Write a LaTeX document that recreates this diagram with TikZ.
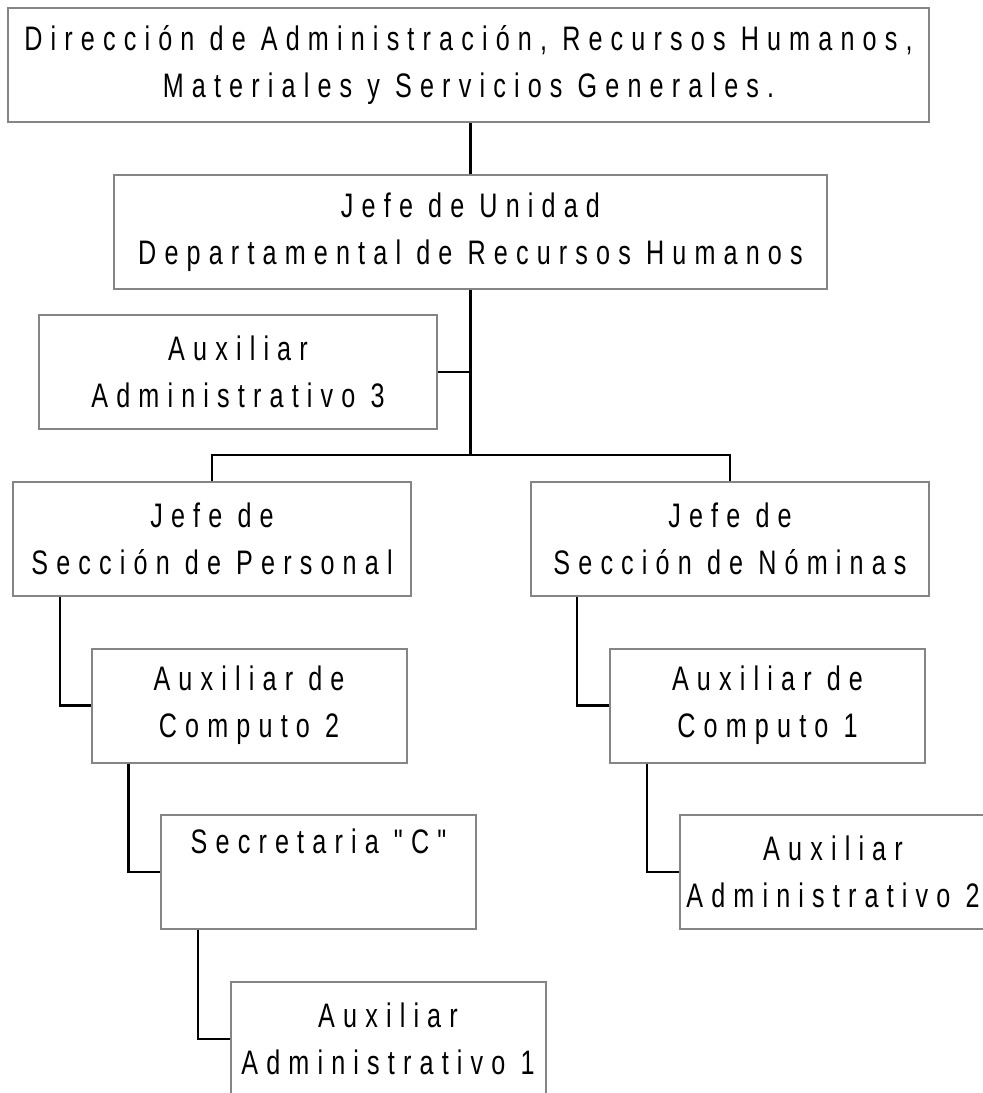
\documentclass[tikz,border=0pt]{standalone}
\usepackage{fontspec}
\newfontfamily\orgfont[FakeStretch=0.74, LetterSpace=24]{Liberation Sans}

\begin{document}
\begin{tikzpicture}[x=1pt, y=-1pt, line width=2.2pt,
    every node/.style={draw=black!48, line width=2pt, rectangle, align=center,
        minimum height=114pt, inner sep=0pt,
        font=\orgfont\fontsize{34}{47}\selectfont},
    wide/.style={minimum width=398pt},
    narrow/.style={minimum width=315pt}]
                \useasboundingbox (0, 0) rectangle (983, 1093);
                \clip (0, 0) rectangle (983, 1093);

                % Nodes
                \node[minimum width=921pt] at (468.5, 65) (dir) {Dirección de Administración, Recursos Humanos,\\ Materiales y Servicios Generales.};
                \node[minimum width=713pt] at (470.5, 232) (rh) {Jefe de Unidad\\ Departamental de Recursos Humanos};
                \node[wide] at (238, 372) (aux3) {Auxiliar\\ Administrativo 3};
                \node[wide] at (212, 539) (pers) {Jefe de\\ Sección de Personal};
                \node[wide] at (730, 539) (nom) {Jefe de\\ Sección de Nóminas};
                \node[narrow] at (249, 705.5) (comp2) {Auxiliar de\\ Computo 2};
                \node[narrow] at (767.5, 705.5) (comp1) {Auxiliar de\\ Computo 1};
                \node[narrow] at (318.5, 872) (sec) {Secretaria "C"\\ \strut};
                \node[minimum width=306pt] at (833, 872) (aux2) {Auxiliar\\ Administrativo 2};
                \node[narrow] at (388, 1039) (aux1) {Auxiliar\\ Administrativo 1};
                \coordinate (bus) at (470.5, 455);

                % Edges
                \draw[-] (rh.north) -- (rh.north |- dir.south);

                \draw[-] (rh.south) -- (bus);

                \draw[-] (aux3.east) -- (aux3.east -| rh.south);

                \draw[-] (pers.north) |- (bus) -| (nom.north);

                \draw[-] ([xshift=48pt]pers.south west) |- (comp2.west);

                \draw[-] ([xshift=47pt]nom.south west) |- (comp1.west);

                \draw[-] ([xshift=38pt]comp2.south west) |- (sec.west);

                \draw[-] ([xshift=38pt]comp1.south west) |- (aux2.west);

                \draw[-] ([xshift=38pt]sec.south west) |- (aux1.west);
            \end{tikzpicture}
\end{document}
